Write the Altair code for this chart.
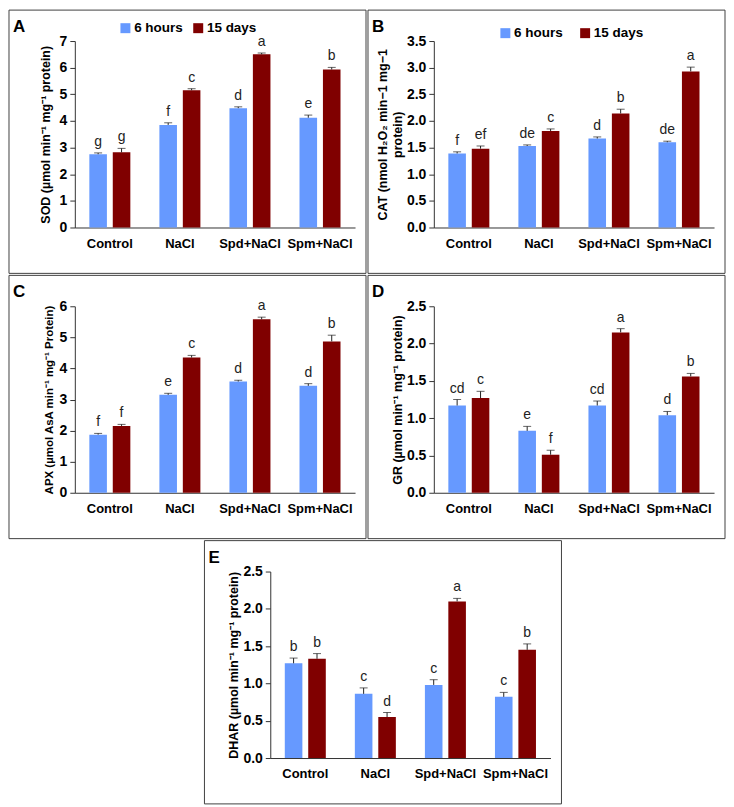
import altair as alt
import pandas as pd

FONT = "Liberation Sans"

groups = ["Control", "NaCl", "Spd+NaCl", "Spm+NaCl"]
series = ["6 hours", "15 days"]
colors = ["#6699FF", "#800000"]

# A: SOD
sod_6h = [2.75, 3.85, 4.48, 4.12]
sod_6h_err = [0.05, 0.08, 0.05, 0.10]
sod_6h_sig = ["g", "f", "d", "e"]
sod_15d = [2.82, 5.15, 6.50, 5.93]
sod_15d_err = [0.15, 0.06, 0.05, 0.08]
sod_15d_sig = ["g", "c", "a", "b"]

# B: CAT
cat_6h = [1.39, 1.53, 1.67, 1.60]
cat_6h_err = [0.03, 0.02, 0.03, 0.02]
cat_6h_sig = ["f", "de", "d", "de"]
cat_15d = [1.48, 1.81, 2.14, 2.93]
cat_15d_err = [0.05, 0.04, 0.08, 0.08]
cat_15d_sig = ["ef", "c", "b", "a"]

# C: APX
apx_6h = [1.87, 3.15, 3.58, 3.44]
apx_6h_err = [0.04, 0.05, 0.04, 0.07]
apx_6h_sig = ["f", "e", "d", "d"]
apx_15d = [2.15, 4.35, 5.58, 4.87]
apx_15d_err = [0.05, 0.07, 0.07, 0.20]
apx_15d_sig = ["f", "c", "a", "b"]

# D: GR
gr_6h = [1.17, 0.83, 1.17, 1.04]
gr_6h_err = [0.08, 0.06, 0.06, 0.05]
gr_6h_sig = ["cd", "e", "cd", "d"]
gr_15d = [1.27, 0.51, 2.15, 1.56]
gr_15d_err = [0.09, 0.06, 0.05, 0.04]
gr_15d_sig = ["c", "f", "a", "b"]

# E: DHAR
dhar_6h = [1.27, 0.86, 0.98, 0.82]
dhar_6h_err = [0.07, 0.08, 0.07, 0.06]
dhar_6h_sig = ["b", "c", "c", "c"]
dhar_15d = [1.33, 0.55, 2.10, 1.45]
dhar_15d_err = [0.07, 0.06, 0.04, 0.08]
dhar_15d_sig = ["b", "d", "a", "b"]

W, H = 281, 187
L, R, T, B = 66, 11, 31, 46


def panel(letter, v6, e6, s6, v15, e15, s15, yvalues, yfmt, ytitle,
          title_size, title_pad, legend_pos=None, legend_colpad=8):
    rows = []
    for i, g in enumerate(groups):
        rows.append(dict(group=g, series=series[0], value=v6[i], err=e6[i], sig=s6[i]))
        rows.append(dict(group=g, series=series[1], value=v15[i], err=e15[i], sig=s15[i]))
    df = pd.DataFrame(rows)
    df["top"] = df["value"] + df["err"]

    x = alt.X("group:N", sort=groups,
              scale=alt.Scale(paddingInner=0, paddingOuter=0),
              axis=alt.Axis(title=None, labelAngle=0, ticks=False, labelFontSize=13,
                            labelFontWeight="bold", labelPadding=10, labelColor="#000",
                            domainColor="#333", labelFont=FONT))
    xo = alt.XOffset("series:N", sort=series,
                     scale=alt.Scale(domain=series, paddingInner=0.25, paddingOuter=0.62))
    yaxis = alt.Axis(values=yvalues, format=yfmt, title=ytitle, grid=False,
                     domainColor="#333", tickColor="#333", tickSize=5,
                     labelFontSize=14, labelFontWeight="bold", labelColor="#000",
                     labelPadding=3, labelFont=FONT,
                     titleFontSize=title_size, titleFontWeight="bold", titleColor="#000",
                     titlePadding=title_pad, titleFont=FONT)
    yscale = alt.Scale(domain=[0, yvalues[-1]], nice=False)

    if legend_pos is not None:
        legend = alt.Legend(title=None, orient="none", legendX=legend_pos[0], legendY=legend_pos[1],
                            direction="horizontal", symbolType="square", symbolSize=100,
                            symbolStrokeWidth=0, labelFontSize=13.5, labelFontWeight="bold",
                            labelColor="#000", labelFont=FONT, columnPadding=legend_colpad,
                            labelOffset=2, padding=0)
    else:
        legend = None
    color = alt.Color("series:N", sort=series,
                      scale=alt.Scale(domain=series, range=colors), legend=legend)

    base = alt.Chart(df)
    bars = base.mark_bar().encode(
        x=x, xOffset=xo, y=alt.Y("value:Q", scale=yscale, axis=yaxis), color=color)
    err = base.mark_rule(color="#222", strokeWidth=1).encode(
        x=x, xOffset=xo, y=alt.Y("value:Q", scale=yscale, axis=yaxis), y2="top:Q")
    cap = base.mark_tick(color="#222", thickness=1, size=8).encode(
        x=x, xOffset=xo, y=alt.Y("top:Q", scale=yscale, axis=yaxis))
    lab = base.mark_text(dy=-4, baseline="bottom", fontSize=14, color="#222", font=FONT).encode(
        x=x, xOffset=xo, y=alt.Y("top:Q", scale=yscale, axis=yaxis), text="sig:N")

    one = pd.DataFrame({"k": [0]})
    border = alt.Chart(one).mark_rect(fill="transparent", stroke="#404040", strokeWidth=1).encode(
        x=alt.value(-L), x2=alt.value(W + R), y=alt.value(-T), y2=alt.value(H + B))
    tag = alt.Chart(one).mark_text(text=letter, fontSize=17, fontWeight="bold", font=FONT,
                                   align="left", baseline="middle", color="#000").encode(
        x=alt.value(-L + 4), y=alt.value(-T + 17))

    return alt.layer(border, bars, err, cap, lab, tag).properties(width=W, height=H)


ints7 = [0, 1, 2, 3, 4, 5, 6, 7]
ints6 = [0, 1, 2, 3, 4, 5, 6]
half35 = [0, 0.5, 1.0, 1.5, 2.0, 2.5, 3.0, 3.5]
half25 = [0, 0.5, 1.0, 1.5, 2.0, 2.5]

pA = panel("A", sod_6h, sod_6h_err, sod_6h_sig, sod_15d, sod_15d_err, sod_15d_sig,
           ints7, "d", "SOD (µmol min⁻¹ mg⁻¹ protein)", 12.5, 7,
           legend_pos=(44, -20), legend_colpad=8)
pB = panel("B", cat_6h, cat_6h_err, cat_6h_sig, cat_15d, cat_15d_err, cat_15d_sig,
           half35, ".1f", ["CAT (nmol H₂O₂ min−1 mg−1", "protein)"], 12.5, 2,
           legend_pos=(65, -15), legend_colpad=15)
pC = panel("C", apx_6h, apx_6h_err, apx_6h_sig, apx_15d, apx_15d_err, apx_15d_sig,
           ints6, "d", "APX (µmol AsA  min⁻¹ mg⁻¹ Protein)", 11.5, 5)
pD = panel("D", gr_6h, gr_6h_err, gr_6h_sig, gr_15d, gr_15d_err, gr_15d_sig,
           half25, ".1f", "GR (µmol min⁻¹ mg⁻¹ protein)", 12.5, 2)
pE = panel("E", dhar_6h, dhar_6h_err, dhar_6h_sig, dhar_15d, dhar_15d_err, dhar_15d_sig,
           half25, ".1f", "DHAR (µmol min⁻¹ mg⁻¹ protein)", 12.5, 2)

SPACER_W = 129
spacer = alt.Chart(pd.DataFrame({"k": [0]})).mark_rect(opacity=0).encode(
    x=alt.value(0), x2=alt.value(SPACER_W), y=alt.value(0), y2=alt.value(1)
).properties(width=SPACER_W, height=1)


def ind(c):
    return c.resolve_scale(color="independent", x="independent", y="independent").resolve_legend(color="independent")


row1 = ind(alt.hconcat(pA, pB, spacing=0))
row2 = ind(alt.hconcat(pC, pD, spacing=0))
row3 = ind(alt.hconcat(spacer, pE, spacing=0))

chart = ind(alt.vconcat(row1, row2, row3, spacing=0)).properties(
    padding=0, background="white"
).configure(font=FONT).configure_view(strokeWidth=0, stroke="transparent")

chart.save("out.html", embed_options={"renderer": "svg", "actions": False})
